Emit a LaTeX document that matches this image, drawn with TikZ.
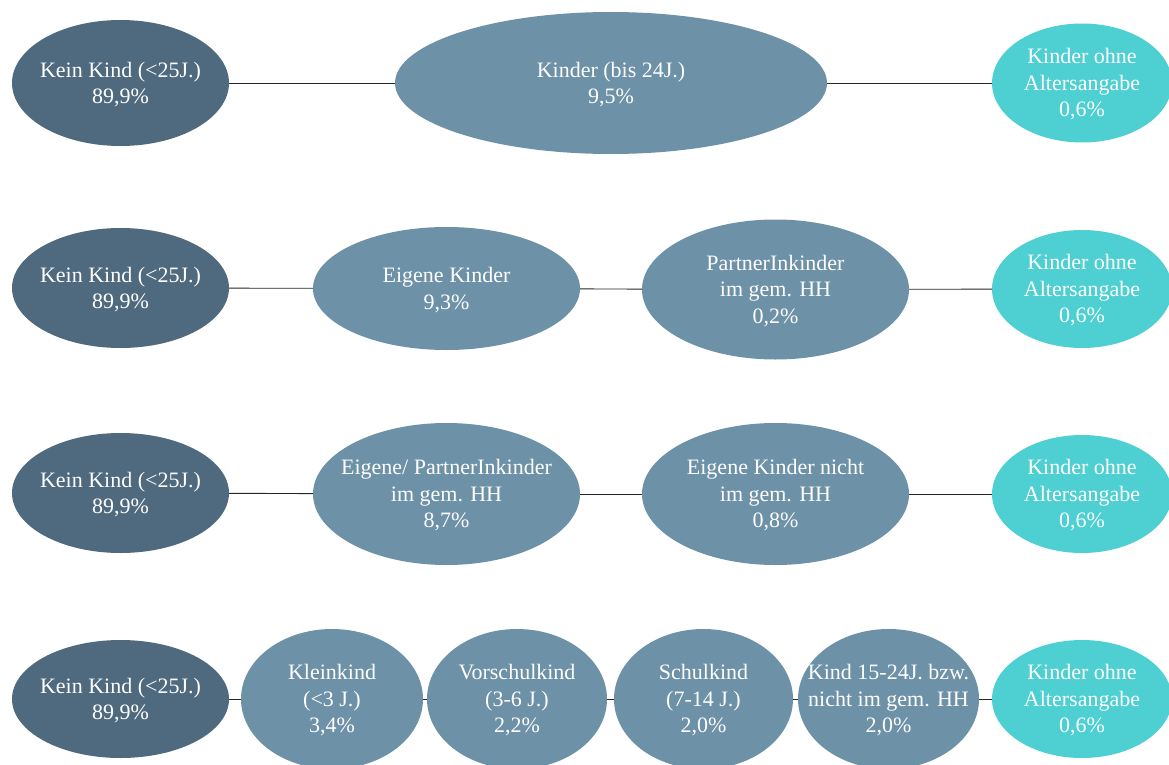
\documentclass[tikz,border=0pt]{standalone}
\usepackage{fontspec}
\setmainfont{Liberation Serif}
\usetikzlibrary{shapes.geometric}
\definecolor{cdark}{HTML}{4F6A7E}
\definecolor{cmid}{HTML}{6D91A6}
\definecolor{ccyan}{HTML}{4ECFD2}
\tikzset{
  ell/.style={ellipse, inner sep=0pt, outer sep=0pt},
  lbl/.style={text=white, align=center, inner sep=0pt, yshift=-1.5pt,
    font=\fontsize{22}{26.5}\selectfont},
  dark/.style={ell, fill=cdark},
  mid/.style={ell, fill=cmid},
  cyan/.style={ell, fill=ccyan},
  link/.style={draw=black!85, line width=0.9pt}
}
\begin{document}
\begin{tikzpicture}[x=1pt,y=-1pt]
\useasboundingbox (0,0) rectangle (1169,765);
% row 1
\node[dark, minimum width=217, minimum height=126, label={[lbl]center:Kein Kind (<25J.)\\89,9\%}] (a1) at (120.5,83) {};
\node[mid, minimum width=432, minimum height=142, label={[lbl]center:Kinder (bis 24J.)\\9,5\%}] (a2) at (611,83) {};
\node[cyan, minimum width=180, minimum height=119, label={[lbl]center:Kinder ohne\\Altersangabe\\0,6\%}] (a3) at (1082,83) {};
\draw[link] (a1) -- (a2);
\draw[link] (a2) -- (a3);
% row 2
\node[dark, minimum width=217, minimum height=120, label={[lbl]center:Kein Kind (<25J.)\\89,9\%}] (b1) at (120.5,288) {};
\node[mid, minimum width=267, minimum height=123, label={[lbl]center:Eigene Kinder\\9,3\%}] (b2) at (446.5,288.5) {};
\node[mid, minimum width=267, minimum height=140, label={[lbl]center:PartnerInkinder\\im gem. HH\\0,2\%}] (b3) at (775.5,289.5) {};
\node[cyan, minimum width=180, minimum height=118, label={[lbl]center:Kinder ohne\\Altersangabe\\0,6\%}] (b4) at (1082,289) {};
\draw[link] (b1) -- (b2);
\draw[link] (b2) -- (b3);
\draw[link] (b3) -- (b4);
% row 3
\node[dark, minimum width=217, minimum height=120, label={[lbl]center:Kein Kind (<25J.)\\89,9\%}] (c1) at (120.5,493) {};
\node[mid, minimum width=267, minimum height=142, label={[lbl]center:Eigene/ PartnerInkinder\\im gem. HH\\8,7\%}] (c2) at (446.5,494) {};
\node[mid, minimum width=267, minimum height=142, label={[lbl]center:Eigene Kinder nicht\\im gem. HH\\0,8\%}] (c3) at (775.5,494) {};
\node[cyan, minimum width=180, minimum height=118, label={[lbl]center:Kinder ohne\\Altersangabe\\0,6\%}] (c4) at (1082,494) {};
\draw[link] (c1) -- (c2);
\draw[link] (c2) -- (c3);
\draw[link] (c3) -- (c4);
% row 4
\node[dark, minimum width=217, minimum height=118, label={[lbl]center:Kein Kind (<25J.)\\89,9\%}] (d1) at (120.5,699) {};
\node[mid, minimum width=182, minimum height=140, label={[lbl]center:Kleinkind\\(<3 J.)\\3,4\%}] (d2) at (332,699) {};
\node[mid, minimum width=180, minimum height=140, label={[lbl]center:Vorschulkind\\(3-6 J.)\\2,2\%}] (d3) at (517,699) {};
\node[mid, minimum width=179, minimum height=140, label={[lbl]center:Schulkind\\(7-14 J.)\\2,0\%}] (d4) at (703.5,699) {};
\node[mid, minimum width=181, minimum height=140, label={[lbl]center:Kind 15-24J. bzw.\\nicht im gem. HH\\2,0\%}] (d5) at (888.5,699) {};
\node[cyan, minimum width=180, minimum height=118, label={[lbl]center:Kinder ohne\\Altersangabe\\0,6\%}] (d6) at (1082,699) {};
\draw[link] (d1) -- (d2);
\draw[link] (d2) -- (d3);
\draw[link] (d3) -- (d4);
\draw[link] (d4) -- (d5);
\draw[link] (d5) -- (d6);
\end{tikzpicture}
\end{document}
